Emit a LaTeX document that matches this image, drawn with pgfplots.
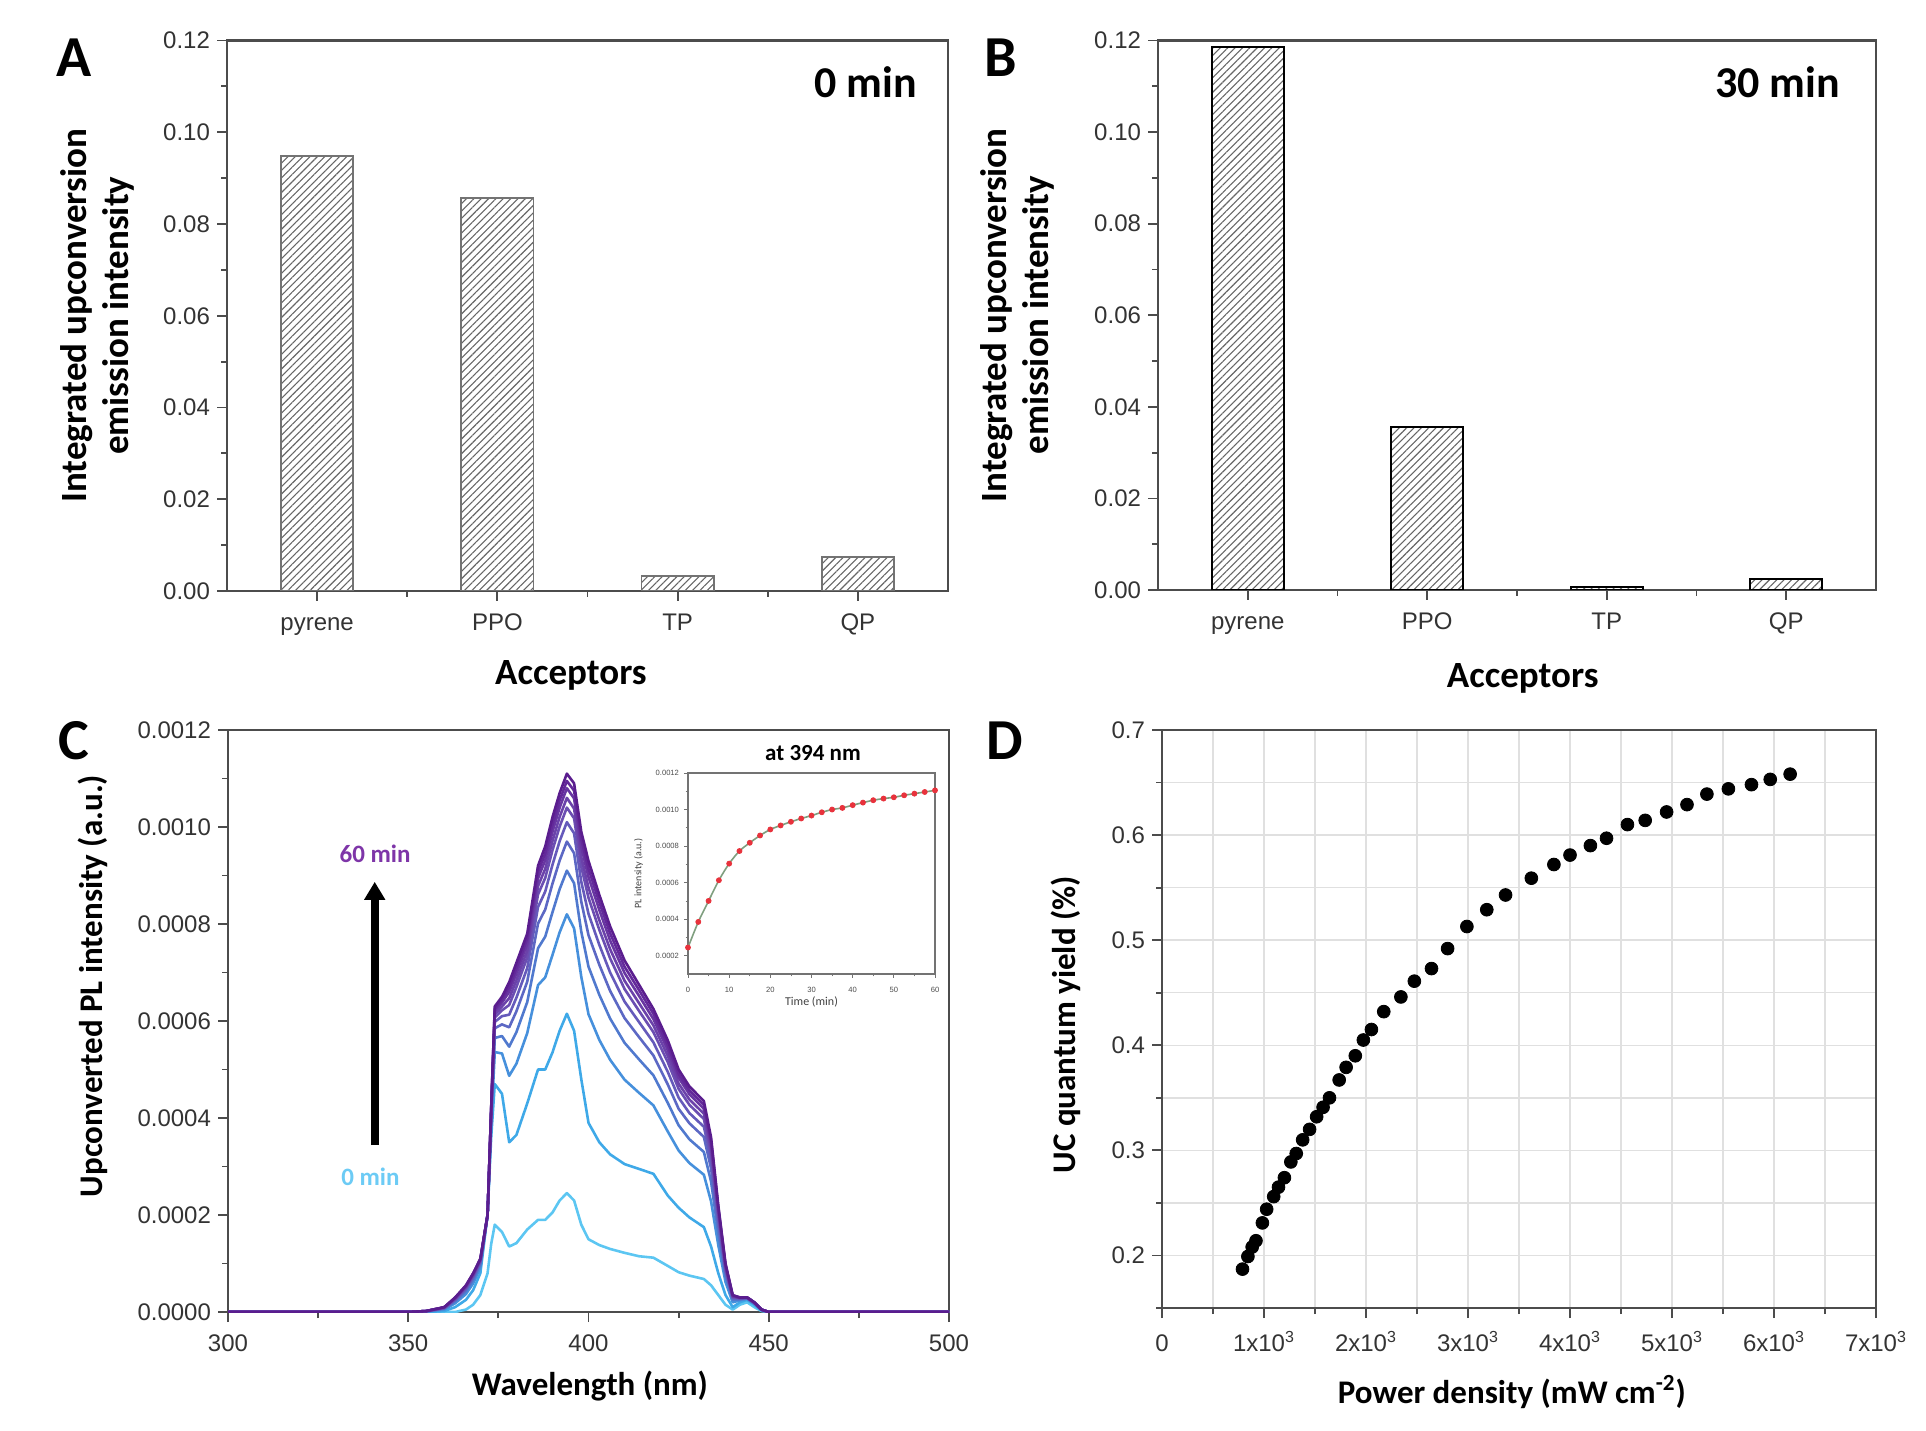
\documentclass[border=0pt]{standalone}
\usepackage{fontspec}
\setmainfont{Liberation Sans}
\newfontfamily\carlito{Carlito}
\usepackage{pgfplots}
\pgfplotsset{compat=1.18}
\usepackage{pgfplotstable}
\usetikzlibrary{patterns.meta,arrows.meta}

\definecolor{k1}{HTML}{5CC6F2}
\definecolor{k2}{HTML}{3FA9E8}
\definecolor{k3}{HTML}{4690DC}
\definecolor{k4}{HTML}{5079CE}
\definecolor{k5}{HTML}{5C68C4}
\definecolor{k6}{HTML}{655ABB}
\definecolor{k7}{HTML}{6B4EB2}
\definecolor{k8}{HTML}{6B42AA}
\definecolor{k9}{HTML}{6836A2}
\definecolor{k10}{HTML}{63299A}
\definecolor{k11}{HTML}{5A1D8E}
\definecolor{lab60}{HTML}{7E35A8}
\definecolor{lab0}{HTML}{6CCBF5}
\definecolor{fitline}{HTML}{7F9F7F}
\definecolor{redpt}{HTML}{E8323C}

\pgfplotstableread{
x c1 c2 c3 c4 c5 c6 c7 c8 c9 c10 c11
300 0 0 0 0 0 0 0 0 0 0 0
350 0 0 0 0 0 0 0 0 0 0 0
355 0 0 0.01e-4 0.01e-4 0.01e-4 0.02e-4 0.02e-4 0.02e-4 0.02e-4 0.02e-4 0.02e-4
360 0 0.02e-4 0.05e-4 0.07e-4 0.08e-4 0.08e-4 0.09e-4 0.09e-4 0.10e-4 0.10e-4 0.10e-4
363 0 0.10e-4 0.18e-4 0.22e-4 0.24e-4 0.26e-4 0.27e-4 0.28e-4 0.29e-4 0.29e-4 0.30e-4
366 0.05e-4 0.25e-4 0.37e-4 0.43e-4 0.47e-4 0.49e-4 0.51e-4 0.52e-4 0.53e-4 0.54e-4 0.55e-4
368 0.15e-4 0.45e-4 0.59e-4 0.66e-4 0.70e-4 0.73e-4 0.75e-4 0.76e-4 0.78e-4 0.79e-4 0.80e-4
370 0.35e-4 0.80e-4 0.92e-4 0.98e-4 1.02e-4 1.04e-4 1.06e-4 1.07e-4 1.08e-4 1.09e-4 1.10e-4
372 0.80e-4 2.00e-4 2.00e-4 2.00e-4 2.00e-4 2.00e-4 2.00e-4 2.00e-4 2.00e-4 2.00e-4 2.00e-4
373 1.40e-4 3.60e-4 3.85e-4 3.96e-4 4.03e-4 4.08e-4 4.12e-4 4.14e-4 4.16e-4 4.18e-4 4.20e-4
374 1.80e-4 4.70e-4 5.36e-4 5.65e-4 5.85e-4 5.98e-4 6.07e-4 6.14e-4 6.20e-4 6.25e-4 6.30e-4
376 1.65e-4 4.50e-4 5.33e-4 5.69e-4 5.93e-4 6.10e-4 6.22e-4 6.30e-4 6.38e-4 6.44e-4 6.50e-4
378 1.35e-4 3.50e-4 4.87e-4 5.47e-4 5.87e-4 6.13e-4 6.33e-4 6.47e-4 6.60e-4 6.70e-4 6.80e-4
380 1.42e-4 3.65e-4 5.12e-4 5.77e-4 6.20e-4 6.48e-4 6.70e-4 6.84e-4 6.98e-4 7.09e-4 7.20e-4
383 1.70e-4 4.30e-4 5.75e-4 6.39e-4 6.81e-4 7.09e-4 7.31e-4 7.45e-4 7.59e-4 7.70e-4 7.80e-4
386 1.90e-4 5.00e-4 6.74e-4 7.50e-4 8.01e-4 8.35e-4 8.61e-4 8.78e-4 8.94e-4 9.07e-4 9.20e-4
388 1.90e-4 5.00e-4 6.90e-4 7.74e-4 8.30e-4 8.67e-4 8.95e-4 9.14e-4 9.32e-4 9.46e-4 9.60e-4
390 2.05e-4 5.35e-4 7.36e-4 8.24e-4 8.83e-4 9.22e-4 9.52e-4 9.71e-4 9.90e-4 10.05e-4 10.20e-4
392 2.30e-4 5.80e-4 7.83e-4 8.72e-4 9.31e-4 9.71e-4 10.01e-4 10.21e-4 10.40e-4 10.55e-4 10.70e-4
394 2.45e-4 6.15e-4 8.20e-4 9.10e-4 9.70e-4 10.10e-4 10.40e-4 10.60e-4 10.80e-4 10.95e-4 11.10e-4
396 2.30e-4 5.80e-4 7.91e-4 8.84e-4 9.46e-4 9.87e-4 10.18e-4 10.38e-4 10.59e-4 10.75e-4 10.90e-4
398 1.80e-4 4.80e-4 6.91e-4 7.84e-4 8.46e-4 8.87e-4 9.18e-4 9.38e-4 9.59e-4 9.75e-4 9.90e-4
400 1.50e-4 3.90e-4 6.14e-4 7.12e-4 7.77e-4 8.21e-4 8.54e-4 8.75e-4 8.97e-4 9.14e-4 9.30e-4
403 1.38e-4 3.50e-4 5.61e-4 6.54e-4 7.16e-4 7.57e-4 7.88e-4 8.08e-4 8.29e-4 8.45e-4 8.60e-4
406 1.30e-4 3.25e-4 5.20e-4 6.05e-4 6.62e-4 7.00e-4 7.29e-4 7.48e-4 7.66e-4 7.81e-4 7.95e-4
410 1.22e-4 3.05e-4 4.79e-4 5.55e-4 6.06e-4 6.40e-4 6.66e-4 6.83e-4 6.99e-4 7.12e-4 7.25e-4
414 1.15e-4 2.95e-4 4.52e-4 5.21e-4 5.67e-4 5.98e-4 6.21e-4 6.37e-4 6.52e-4 6.64e-4 6.75e-4
418 1.12e-4 2.85e-4 4.26e-4 4.88e-4 5.29e-4 5.56e-4 5.77e-4 5.91e-4 6.04e-4 6.15e-4 6.25e-4
422 0.95e-4 2.40e-4 3.72e-4 4.31e-4 4.69e-4 4.95e-4 5.15e-4 5.28e-4 5.40e-4 5.50e-4 5.60e-4
425 0.82e-4 2.15e-4 3.33e-4 3.85e-4 4.19e-4 4.42e-4 4.60e-4 4.71e-4 4.83e-4 4.91e-4 5.00e-4
428 0.75e-4 1.95e-4 3.07e-4 3.56e-4 3.89e-4 4.10e-4 4.27e-4 4.38e-4 4.49e-4 4.57e-4 4.65e-4
432 0.68e-4 1.75e-4 2.83e-4 3.30e-4 3.61e-4 3.82e-4 3.98e-4 4.09e-4 4.19e-4 4.27e-4 4.35e-4
434 0.55e-4 1.35e-4 2.28e-4 2.69e-4 2.96e-4 3.15e-4 3.28e-4 3.37e-4 3.46e-4 3.53e-4 3.60e-4
436 0.35e-4 0.80e-4 1.38e-4 1.63e-4 1.80e-4 1.92e-4 2.00e-4 2.06e-4 2.11e-4 2.16e-4 2.20e-4
438 0.15e-4 0.35e-4 0.62e-4 0.74e-4 0.82e-4 0.87e-4 0.91e-4 0.93e-4 0.96e-4 0.98e-4 1.00e-4
440 0.05e-4 0.10e-4 0.20e-4 0.25e-4 0.28e-4 0.30e-4 0.31e-4 0.32e-4 0.33e-4 0.34e-4 0.35e-4
442 0.15e-4 0.20e-4 0.24e-4 0.26e-4 0.27e-4 0.28e-4 0.29e-4 0.29e-4 0.29e-4 0.30e-4 0.30e-4
444 0.20e-4 0.25e-4 0.27e-4 0.28e-4 0.29e-4 0.29e-4 0.29e-4 0.29e-4 0.30e-4 0.30e-4 0.30e-4
446 0.10e-4 0.15e-4 0.17e-4 0.18e-4 0.19e-4 0.19e-4 0.19e-4 0.19e-4 0.20e-4 0.20e-4 0.20e-4
448 0.02e-4 0.03e-4 0.04e-4 0.04e-4 0.04e-4 0.05e-4 0.05e-4 0.05e-4 0.05e-4 0.05e-4 0.05e-4
450 0 0 0 0 0 0 0 0 0 0 0
500 0 0 0 0 0 0 0 0 0 0 0
}\spectra

\pgfplotstableread{
t I
0 0.000245
2.5 0.000385
5 0.000500
7.5 0.000613
10 0.000704
12.5 0.000773
15 0.000818
17.5 0.000858
20 0.000891
22.5 0.000913
25 0.000933
27.5 0.000951
30 0.000967
32.5 0.000985
35 0.001000
37.5 0.001009
40 0.001024
42.5 0.001038
45 0.001051
47.5 0.001060
50 0.001067
52.5 0.001078
55 0.001087
57.5 0.001096
60 0.001105
}\kinetics

\pgfplotstableread{
P Q
789 0.187
842 0.199
884 0.208
921 0.214
984 0.231
1026 0.244
1095 0.256
1142 0.265
1200 0.274
1263 0.289
1316 0.297
1379 0.310
1447 0.320
1516 0.332
1579 0.341
1642 0.350
1737 0.367
1805 0.379
1895 0.390
1974 0.405
2053 0.415
2174 0.432
2342 0.446
2474 0.461
2642 0.473
2800 0.492
2989 0.513
3184 0.529
3368 0.543
3621 0.559
3842 0.572
4000 0.581
4200 0.590
4358 0.597
4563 0.610
4737 0.614
4947 0.622
5147 0.629
5342 0.639
5553 0.644
5779 0.648
5963 0.653
6158 0.658
}\qydata

\pgfplotsset{
  base/.style={
    scale only axis, anchor=south west,
    axis line style={draw=black!70, line width=1.1pt},
    tick style={black!70, line width=0.9pt},
    major tick length=5pt, minor tick length=3pt,
    tick align=outside, xtick pos=bottom, ytick pos=left,
    scaled ticks=false,
    ticklabel style={font=\fontsize{12}{14}\selectfont, text=black!80},
    xticklabel style={text height=9pt, text depth=2.5pt, yshift=-2pt},
    /pgf/number format/assume math mode=true,
    label style={font=\carlito\bfseries\fontsize{18.5}{21}\selectfont, text=black},
  },
  barsty/.style={ybar, bar width=0.4, pattern={Lines[angle=45,distance=2.6pt,line width=0.55pt]}, pattern color=black!60},
}

\begin{document}
\begin{tikzpicture}
\path[use as bounding box] (0,0) rectangle (963pt,715pt);

% ---------------- Panel A
\begin{axis}[base, at={(113.5pt,419.5pt)}, width=360.5pt, height=275.25pt,
  ymin=0, ymax=0.12, ytick={0,0.02,0.04,0.06,0.08,0.1,0.12}, minor y tick num=1,
  xmin=-0.5, xmax=3.5, xtick={0,1,2,3}, xticklabels={pyrene,PPO,TP,QP}, minor xtick={0.5,1.5,2.5},
  yticklabel style={/pgf/number format/.cd, fixed, fixed zerofill, precision=2},
  ylabel={Integrated upconversion\\emission intensity},
  ylabel style={align=center, at={(axis description cs:-0.18,0.5)}, anchor=center},
  xlabel={Acceptors},
  xlabel style={at={(axis description cs:0.477,-0.153)}, anchor=center},
]
\addplot[barsty, draw=black!55, line width=0.9pt] coordinates {(0,0.0948) (1,0.0856) (2,0.0033) (3,0.0074)};
\end{axis}
\node[font=\carlito\bfseries\fontsize{22}{24}\selectfont, anchor=east] at (462pt,674pt) {0 min};
\node[font=\carlito\bfseries\fontsize{29}{30}\selectfont] at (37pt,686pt) {A};

% ---------------- Panel B
\begin{axis}[base, at={(579pt,420pt)}, width=359pt, height=274.75pt,
  ymin=0, ymax=0.12, ytick={0,0.02,0.04,0.06,0.08,0.1,0.12}, minor y tick num=1,
  xmin=-0.5, xmax=3.5, xtick={0,1,2,3}, xticklabels={pyrene,PPO,TP,QP}, minor xtick={0.5,1.5,2.5},
  yticklabel style={/pgf/number format/.cd, fixed, fixed zerofill, precision=2},
  ylabel={Integrated upconversion\\emission intensity},
  ylabel style={align=center, at={(axis description cs:-0.196,0.5)}, anchor=center},
  xlabel={Acceptors},
  xlabel style={at={(axis description cs:0.508,-0.16)}, anchor=center},
]
\addplot[barsty, draw=black, line width=1.1pt] coordinates {(0,0.1185) (1,0.0356) (2,0.0007) (3,0.0024)};
\end{axis}
\node[font=\carlito\bfseries\fontsize{22}{24}\selectfont, anchor=east] at (923.5pt,674pt) {30 min};
\node[font=\carlito\bfseries\fontsize{29}{30}\selectfont] at (500.5pt,686pt) {B};

% ---------------- Panel C
\begin{axis}[base, at={(114pt,59pt)}, width=360.5pt, height=291pt,
  xmin=300, xmax=500, xtick={300,350,400,450,500}, minor x tick num=1,
  ymin=0, ymax=0.0012, ytick={0,0.0002,0.0004,0.0006,0.0008,0.001,0.0012}, minor y tick num=1,
  yticklabel style={/pgf/number format/.cd, fixed, fixed zerofill, precision=4},
  label style={font=\carlito\bfseries\fontsize{16.5}{19}\selectfont},
  ylabel={Upconverted PL intensity (a.u.)},
  ylabel style={at={(axis description cs:-0.187,0.56)}, anchor=center},
  xlabel={Wavelength (nm)},
  xlabel style={at={(axis description cs:0.502,-0.127)}, anchor=center},
]
\addplot[k1, line width=1.3pt, line join=round] table[x=x, y=c1] {\spectra};
\addplot[k2, line width=1.3pt, line join=round] table[x=x, y=c2] {\spectra};
\addplot[k3, line width=1.3pt, line join=round] table[x=x, y=c3] {\spectra};
\addplot[k4, line width=1.3pt, line join=round] table[x=x, y=c4] {\spectra};
\addplot[k5, line width=1.3pt, line join=round] table[x=x, y=c5] {\spectra};
\addplot[k6, line width=1.3pt, line join=round] table[x=x, y=c6] {\spectra};
\addplot[k7, line width=1.3pt, line join=round] table[x=x, y=c7] {\spectra};
\addplot[k8, line width=1.3pt, line join=round] table[x=x, y=c8] {\spectra};
\addplot[k9, line width=1.3pt, line join=round] table[x=x, y=c9] {\spectra};
\addplot[k10, line width=1.3pt, line join=round] table[x=x, y=c10] {\spectra};
\addplot[k11, line width=1.3pt, line join=round] table[x=x, y=c11] {\spectra};
\draw[line width=4pt, -{Triangle[width=10pt,length=9pt]}] (axis cs:340.7,0.000344) -- (axis cs:340.7,0.000887);
\node[font=\carlito\bfseries\fontsize{12.5}{14}\selectfont, text=lab60] at (axis cs:340.8,0.000944) {60 min};
\node[font=\carlito\bfseries\fontsize{12.5}{14}\selectfont, text=lab0] at (axis cs:339.5,0.000279) {0 min};
\end{axis}
\node[font=\carlito\bfseries\fontsize{29}{30}\selectfont] at (37pt,344.5pt) {C};

% ---------------- Inset
\begin{axis}[base, at={(344pt,228pt)}, width=123.5pt, height=100.5pt,
  axis background/.style={fill=white},
  axis line style={draw=black!55, line width=0.6pt},
  tick style={black!55, line width=0.4pt},
  major tick length=2pt, minor tick length=1.2pt,
  xmin=0, xmax=60, xtick={0,10,20,30,40,50,60}, minor x tick num=1,
  ymin=0.0001, ymax=0.0012, ytick={0.0002,0.0004,0.0006,0.0008,0.001,0.0012},
  minor ytick={0.0003,0.0005,0.0007,0.0009,0.0011},
  ticklabel style={font=\fontsize{3.8}{4}\selectfont, text=black!70},
  xticklabel style={text height=3pt, text depth=0pt, yshift=1.5pt}, yticklabel style={xshift=1pt, /pgf/number format/.cd, fixed, fixed zerofill, precision=4},
  label style={font=\carlito\fontsize{6}{7}\selectfont, text=black!75},
  xlabel={Time (min)},
  xlabel style={at={(axis description cs:0.5,-0.138)}, anchor=center},
  ylabel={PL intensity (a.u.)},
  ylabel style={at={(axis description cs:-0.2,0.5)}, anchor=center, font=\carlito\fontsize{5}{6}\selectfont},
]
\addplot[fitline, line width=0.8pt, smooth] table[x=t, y=I] {\kinetics};
\addplot[only marks, mark=*, mark size=1.25pt, redpt] table[x=t, y=I] {\kinetics};
\end{axis}
\node[font=\carlito\bfseries\fontsize{11.5}{13}\selectfont] at (406.5pt,338.5pt) {at 394 nm};

% ---------------- Panel D
\begin{axis}[base, at={(581pt,61pt)}, width=357pt, height=289pt,
  xmin=0, xmax=7000, xtick={0,1000,2000,3000,4000,5000,6000,7000}, minor x tick num=1,
  xticklabels={0,1x10\textsuperscript{3},2x10\textsuperscript{3},3x10\textsuperscript{3},4x10\textsuperscript{3},5x10\textsuperscript{3},6x10\textsuperscript{3},7x10\textsuperscript{3}},
  xticklabel style={yshift=-2pt},
  ymin=0.15, ymax=0.7, ytick={0.2,0.3,0.4,0.5,0.6,0.7}, minor ytick={0.15,0.25,0.35,0.45,0.55,0.65},
  yticklabel style={/pgf/number format/.cd, fixed, fixed zerofill, precision=1},
  grid=both, major grid style={black!12, line width=0.7pt}, minor grid style={black!12, line width=0.7pt},
  label style={font=\carlito\bfseries\fontsize{16.5}{19}\selectfont},
  ylabel={UC quantum yield (\%)},
  ylabel style={at={(axis description cs:-0.134,0.49)}, anchor=center},
  xlabel={Power density (mW cm\textsuperscript{-2})},
  xlabel style={at={(axis description cs:0.49,-0.145)}, anchor=center},
]
\addplot[only marks, mark=*, mark size=3.2pt, black] table[x=P, y=Q] {\qydata};
\end{axis}
\node[font=\carlito\bfseries\fontsize{29}{30}\selectfont] at (502.5pt,344.5pt) {D};
\end{tikzpicture}
\end{document}
